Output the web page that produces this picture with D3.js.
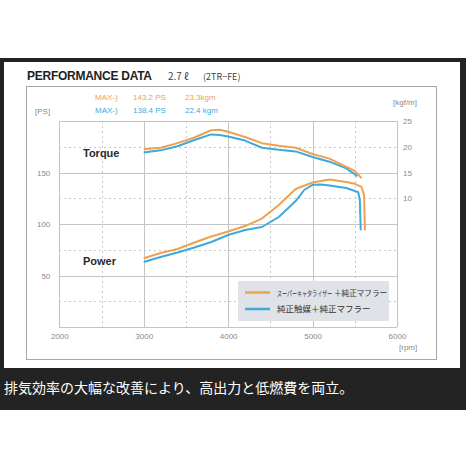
<!DOCTYPE html>
<meta charset="utf-8">
<style>
body {
  margin: 0;
  background-color: #fff;
}
.grid line {
  stroke: #c4c4c4;
  stroke-width: 1px;
  shape-rendering: crispEdges;
}
.grid .dash {
  stroke: #c8c8c8;
  stroke-dasharray: 2,3;
}
.axis path, .axis line { display: none; }
.axis text {
  fill: #8a8a8a;
  font-family: "Liberation Sans", Arial, sans-serif;
  font-size: 8px;
}
.line {
  fill: none;
  stroke-width: 2px;
  stroke-linejoin: round;
}
</style>
<svg class="chart" width="468" height="468"></svg>

<script src="https://cdn.jsdelivr.net/npm/d3@7"></script>
<script>
// orange = super catalyzer + stock muffler, blue = stock catalyst + stock muffler
var powerRpmA = [3000, 3200, 3400, 3600, 3800, 4000, 4200, 4400, 4600, 4800, 5000, 5200, 5400, 5500, 5580, 5610, 5620];
var powerA    = [66.7, 71.8, 75.7, 82.0, 87.9, 92.7, 98.0, 105.3, 118.4, 134.0, 140.3, 143.2, 140.8, 139.0, 136.0, 128.0, 94];
var powerRpmB = [3000, 3200, 3400, 3600, 3800, 4000, 4200, 4400, 4600, 4800, 4900, 5000, 5100, 5200, 5400, 5500, 5540, 5560, 5570];
var powerB    = [63.1, 68.0, 72.3, 77.2, 82.5, 89.3, 94.2, 97.1, 106.8, 122.3, 133.0, 138.0, 138.4, 137.4, 134.9, 132.0, 131.0, 123.0, 94];
var torqueRpmA = [3000, 3200, 3400, 3600, 3800, 3900, 4000, 4200, 4400, 4600, 4800, 5000, 5200, 5400, 5500, 5580];
var torqueA    = [19.5, 19.8, 20.7, 21.8, 23.2, 23.3, 22.9, 21.9, 20.7, 20.2, 19.8, 18.6, 17.7, 16.1, 15.3, 13.9];
var torqueRpmB = [3000, 3200, 3400, 3600, 3800, 3900, 4000, 4200, 4400, 4600, 4800, 5000, 5200, 5400, 5530];
var torqueB    = [18.9, 19.3, 20.1, 21.3, 22.4, 22.3, 22.0, 21.2, 19.8, 19.4, 19.1, 18.0, 17.1, 15.8, 14.3];

var rpmTicks = [2000, 3000, 4000, 5000, 6000];
var rpmHalf = [2500, 3500, 4500, 5500];
var psTicks = [50, 100, 150];
var psGrid = [0, 50, 100, 150, 200];
var psHalf = [25, 75, 125, 175];
var kgmTicks = [25, 20, 15, 10];

var colorA = "#f0a14f", colorB = "#3fa9dd";

var svg = d3.select(".chart");

// frame
svg.append("rect").attr("x", 0).attr("y", 58).attr("width", 466).attr("height", 352).attr("fill", "#232323");
svg.append("rect").attr("x", 4).attr("y", 62).attr("width", 456).attr("height", 306).attr("fill", "#fff");
svg.append("rect").attr("x", 26.5).attr("y", 86.5).attr("width", 410).attr("height", 273)
  .attr("fill", "none").attr("stroke", "#a8a8a8");

var x = d3.scaleLinear().domain([2000, 6000]).range([59.3, 397]);
var y = d3.scaleLinear().domain([0, 200]).range([327, 121]);
var yT = d3.scaleLinear().domain([10, 25]).range([198.25, 121]);

var grid = svg.append("g").attr("class", "grid");
grid.selectAll(".vs").data(rpmTicks).enter().append("line")
  .attr("x1", d => Math.round(x(d)) + 0.5).attr("x2", d => Math.round(x(d)) + 0.5)
  .attr("y1", y(200)).attr("y2", y(0));
grid.selectAll(".vd").data(rpmHalf).enter().append("line").attr("class", "dash")
  .attr("x1", d => Math.round(x(d)) + 0.5).attr("x2", d => Math.round(x(d)) + 0.5)
  .attr("y1", y(200)).attr("y2", y(0));
grid.selectAll(".hs").data(psGrid).enter().append("line")
  .attr("x1", x(2000)).attr("x2", x(6000))
  .attr("y1", d => Math.round(y(d)) + 0.5).attr("y2", d => Math.round(y(d)) + 0.5);
grid.selectAll(".hd").data(psHalf).enter().append("line").attr("class", "dash")
  .attr("x1", x(2000)).attr("x2", x(6000))
  .attr("y1", d => Math.round(y(d)) + 0.5).attr("y2", d => Math.round(y(d)) + 0.5);

svg.append("g").attr("class", "axis")
  .attr("transform", "translate(0," + y(0) + ")")
  .call(d3.axisBottom(x).tickValues(rpmTicks).tickSize(0).tickPadding(6).tickFormat(d3.format("d")));
svg.append("g").attr("class", "axis")
  .attr("transform", "translate(" + x(2000) + ",0)")
  .call(d3.axisLeft(y).tickValues(psTicks).tickSize(0).tickPadding(9));
svg.append("g").attr("class", "axis")
  .attr("transform", "translate(" + x(6000) + ",0)")
  .call(d3.axisRight(yT).tickValues(kgmTicks).tickSize(0).tickPadding(6));

function addText(tx, ty, s, size, fill, weight, family) {
  return svg.append("text").attr("x", tx).attr("y", ty).text(s)
    .style("font-size", size + "px").style("fill", fill)
    .style("font-weight", weight || "normal")
    .style("font-family", family || "'Liberation Sans', Arial, sans-serif");
}

var jp = "'Noto Sans CJK JP', sans-serif";
addText(27, 79.5, "PERFORMANCE DATA", 12, "#1e1e1e", "bold").attr("textLength", 125);
addText(168, 79.5, "2.7 ℓ", 10, "#444", "normal", jp);
addText(203, 79.5, "(2TR−FE)", 9, "#444", "normal", jp);
addText(95, 99.5, "MAX-)", 8, colorA);
addText(133, 99.5, "143.2 PS", 8, colorA);
addText(185, 99.5, "23.3kgm", 8, colorA);
addText(95, 113, "MAX-)", 8, colorB);
addText(133, 113, "138.4 PS", 8, colorB);
addText(185, 113, "22.4 kgm", 8, colorB);
addText(35, 113.5, "[PS]", 8, "#8a8a8a");
addText(393, 105, "[kgf/m]", 8, "#8a8a8a");
addText(399, 350, "[rpm]", 8, "#8a8a8a");
addText(83, 156.5, "Torque", 11, "#2a2a2a", "bold");
addText(83, 265, "Power", 11, "#2a2a2a", "bold");

var line = d3.line().x(d => x(d[0])).y(d => d[2](d[1]));
function series(rpms, vals, scale) {
  return rpms.map((r, i) => [r, vals[i], scale]);
}
[[torqueRpmB, torqueB, yT, colorB], [powerRpmB, powerB, y, colorB],
 [torqueRpmA, torqueA, yT, colorA], [powerRpmA, powerA, y, colorA]].forEach(function(s) {
  svg.append("path").datum(series(s[0], s[1], s[2]))
    .attr("class", "line").attr("stroke", s[3]).attr("d", line);
});

// legend
var lg = svg.append("g");
lg.append("rect").attr("x", 238).attr("y", 281).attr("width", 151).attr("height", 40).attr("fill", "#dfe2e6");
lg.append("line").attr("x1", 245).attr("x2", 270).attr("y1", 292.5).attr("y2", 292.5).attr("stroke", colorA).attr("stroke-width", 2.5);
lg.append("line").attr("x1", 245).attr("x2", 270).attr("y1", 309).attr("y2", 309).attr("stroke", colorB).attr("stroke-width", 2.5);
lg.append("text").attr("transform", "translate(277,295.5) scale(0.72,1)")
  .text("スーパーキャタライザー")
  .style("font-family", jp).style("font-size", "7px").style("fill", "#333");
addText(334, 295.5, "＋純正マフラー", 7.6, "#333", "normal", jp);
addText(277, 312, "純正触媒＋純正マフラー", 8.5, "#333", "normal", jp);

addText(4, 393, "排気効率の大幅な改善により、高出力と低燃費を両立。", 14, "#fff", "normal", jp);
</script>
